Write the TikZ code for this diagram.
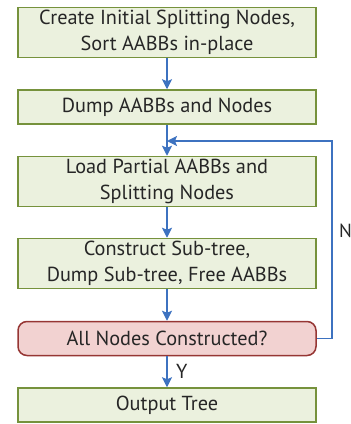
\documentclass[tikz,border=0pt]{standalone}
\usepackage{fontspec}
\setmainfont{PT Sans}
\usetikzlibrary{arrows.meta,positioning}
\definecolor{boxgreen}{HTML}{76923C}
\definecolor{boxfill}{HTML}{EBF1DE}
\definecolor{testred}{HTML}{963634}
\definecolor{testfill}{HTML}{F2D2D1}
\definecolor{flowblue}{HTML}{3D72C0}
\definecolor{txtgray}{HTML}{262626}

\begin{document}
\begin{tikzpicture} [x=1pt,y=-1pt,{stepbox/.style={rectangle,draw=boxgreen,fill=boxfill,line width=1.5pt,minimum width=298pt,minimum height=34pt,inner sep=2pt,align=center,text=txtgray,font=\fontsize{20.3}{26}\selectfont}},{testbox/.style={stepbox,rounded corners=9pt,draw=testred,fill=testfill}},{flowline/.style={color=flowblue,line width=1.4pt,-{Stealth[length=10pt,width=10pt,inset=2pt]}}}]
	%%bounding box of the picture
	\useasboundingbox (0,0) rectangle (351,424);
	%%steps of the flow
	\node [stepbox,minimum height=50pt] (init) at (167,32.5) {Create Initial Splitting Nodes,\\Sort AABBs in-place};
	\node [stepbox] (dump) at (167,107) {Dump AABBs and Nodes};
	\node [stepbox,minimum height=50pt] (load) at (167,181.5) {Load Partial AABBs and\\Splitting Nodes};
	\node [stepbox,minimum height=50pt] (build) at (167,263.5) {Construct Sub-tree,\\Dump Sub-tree, Free AABBs};
	\node [testbox] (done) at (167,338.5) {All Nodes Constructed?};
	\node [stepbox] (out) at (167,405) {Output Tree};
	%%point where the loop comes back
	\coordinate (back) at (167,141);
	\coordinate (turn) at (332,338.5);

	%%arrows
	\draw [flowline] (init) -- (dump);
	\draw [flowline] (dump) -- (load);
	\draw [flowline] (load) -- (build);
	\draw [flowline] (build) -- (done);
	\draw [flowline] (done) -- (out) node [midway,right=5pt,color=txtgray,font=\fontsize{20.3}{26}\selectfont] (yes) {Y};
	\draw [flowline] (done.east) -- (turn) -- (turn |- back) -- (back);
	\node [anchor=west,inner sep=0pt,color=txtgray,font=\fontsize{19}{26}\selectfont] (no) at (339,231) {N};

	\end{tikzpicture}
\end{document}
